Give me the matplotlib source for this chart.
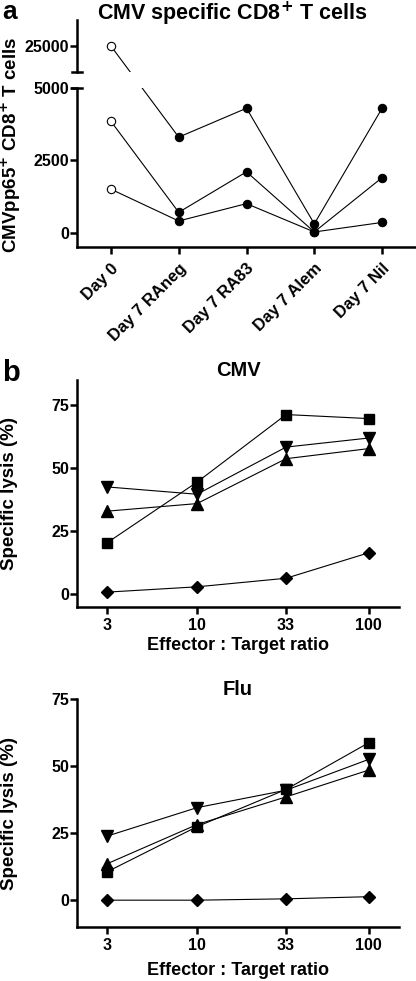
import numpy as np
import matplotlib
matplotlib.use("Agg")
import matplotlib.pyplot as plt
from matplotlib.ticker import NullLocator, FixedLocator

plt.rcParams['font.family'] = ['Liberation Sans', 'DejaVu Sans']
plt.rcParams['font.weight'] = 'bold'
plt.rcParams['axes.labelweight'] = 'bold'
plt.rcParams['axes.titleweight'] = 'bold'

# panel a data
days = ["Day 0", "Day 7 RAneg", "Day 7 RA83", "Day 7 Alem", "Day 7 Nil"]
donor1 = [25000, 3300, 4300, 300, 4300]
donor2 = [3850, 700, 2100, 20, 1900]
donor3 = [1500, 400, 1000, 20, 350]

# panel b data
ratios = [3, 10, 33, 100]
cmv_square = [20.5, 44.5, 71.3, 69.7]
cmv_down = [42.6, 39.7, 58.4, 62.0]
cmv_up = [33.0, 36.0, 53.8, 57.8]
cmv_diamond = [0.9, 3.0, 6.4, 16.5]
flu_square = [10.6, 27.4, 41.3, 58.7]
flu_down = [23.9, 34.5, 41.0, 52.5]
flu_up = [13.6, 28.2, 38.5, 48.5]
flu_diamond = [0.0, 0.0, 0.5, 1.3]

W, H = 416, 981
fig = plt.figure(figsize=(W / 100, H / 100), dpi=100)


def px_axes(left, top, right, bottom):
    return fig.add_axes([left / W, 1 - bottom / H, (right - left) / W, (bottom - top) / H])


def style(ax, left_only=False):
    for s in ['top', 'right']:
        ax.spines[s].set_visible(False)
    for s in ['left', 'bottom']:
        ax.spines[s].set_linewidth(1.8)
    ax.tick_params(width=1.8, length=5, labelsize=11.5)
    ax.tick_params(axis='y', pad=0.5)
    if left_only:
        ax.spines['bottom'].set_visible(False)
        ax.xaxis.set_major_locator(NullLocator())


LW = 0.8
BREAK = 5000

ax_hi = px_axes(77, 20, 416, 72)
ax_lo = px_axes(77, 88, 416, 247)
for ax in (ax_hi, ax_lo):
    ax.set_xlim(-0.5, 4.5)
ax_hi.set_ylim(20000, 30000)
ax_lo.set_ylim(-500, 5000)
style(ax_hi, left_only=True)
style(ax_lo)
ax_hi.yaxis.set_major_locator(FixedLocator([25000]))
ax_lo.yaxis.set_major_locator(FixedLocator([0, 2500, 5000]))
ax_lo.set_xticks(range(len(days)))
ax_lo.set_xticklabels(days, rotation=45, ha='right', rotation_mode='anchor', fontsize=12)
ax_lo.tick_params(axis='x', pad=5)

# break caps
ax_hi.plot([-0.014, 0.014], [0, 0], transform=ax_hi.transAxes, color='k', lw=1.8, clip_on=False)
ax_lo.plot([-0.014, 0.014], [1, 1], transform=ax_lo.transAxes, color='k', lw=1.8, clip_on=False)

# lines run straight across the break: go through display coords
x_days = np.arange(len(days))
for series in (donor1, donor2, donor3):
    disp = []
    for x, v in zip(x_days, series):
        src = ax_hi if v > BREAK else ax_lo
        disp.append(src.transData.transform((x, v)))
    disp = np.array(disp)
    for ax in (ax_hi, ax_lo):
        d = ax.transData.inverted().transform(disp)
        ax.plot(d[:, 0], d[:, 1], color='k', lw=LW, zorder=2)
    for x, v in zip(x_days, series):
        ax = ax_hi if v > BREAK else ax_lo
        face = 'white' if x == 0 else 'black'
        ax.plot(x, v, 'o', ms=6, mfc=face, mec='k', mew=0.8, zorder=3, clip_on=False)

fig.text(232 / W, 1 - 20 / H, 'CMV specific CD8$^{\\mathbf{+}}$ T cells', ha='center', va='baseline',
         fontsize=15.5, fontweight='bold')
fig.text(11 / W, 1 - 145 / H, 'CMVpp65$^{\\mathbf{+}}$ CD8$^{\\mathbf{+}}$ T cells', rotation=90,
         ha='center', va='center', fontsize=13.5, fontweight='bold')
fig.text(2 / W, 1 - 19 / H, 'a', ha='left', va='baseline', fontsize=19, fontweight='bold')
fig.text(2 / W, 1 - 381 / H, 'b', ha='left', va='baseline', fontsize=21, fontweight='bold')


def lysis_panel(ax, title, square, down, up, diamond, ylim, title_pad, xlabel_pad):
    ax.set_xscale('log')
    ax.set_xlim(2, 150)
    ax.set_ylim(*ylim)
    style(ax)
    ax.tick_params(axis='x', pad=3, labelsize=11.5)
    ax.xaxis.set_minor_locator(NullLocator())
    ax.set_xticks(ratios)
    ax.set_xticklabels([str(r) for r in ratios])
    ax.yaxis.set_major_locator(FixedLocator([0, 25, 50, 75]))
    kw = dict(color='k', lw=LW, mfc='k', mec='k', clip_on=False)
    ax.plot(ratios, square, marker='s', ms=7, **kw)
    ax.plot(ratios, down, marker='v', ms=8.5, **kw)
    ax.plot(ratios, up, marker='^', ms=8.5, **kw)
    ax.plot(ratios, diamond, marker='D', ms=6, **kw)
    ax.set_title(title, fontsize=14.5, fontweight='bold', pad=title_pad)
    ax.set_xlabel('Effector : Target ratio', fontsize=13, labelpad=xlabel_pad)
    # y label placed in figure pixels, left edge of the figure
    bbox = ax.get_position()
    fig.text(10 / W, (bbox.y0 + bbox.y1) / 2, 'Specific lysis (%)', rotation=90,
             ha='center', va='center', fontsize=13.5, fontweight='bold')


ax_cmv = px_axes(77, 380, 399, 607)
lysis_panel(ax_cmv, 'CMV', cmv_square, cmv_down, cmv_up, cmv_diamond, (-5, 85), -1.5, 3)
ax_flu = px_axes(77, 699, 399, 927)
lysis_panel(ax_flu, 'Flu', flu_square, flu_down, flu_up, flu_diamond, (-10, 75), 2, 6.5)

fig.savefig('out.png', dpi=100)
